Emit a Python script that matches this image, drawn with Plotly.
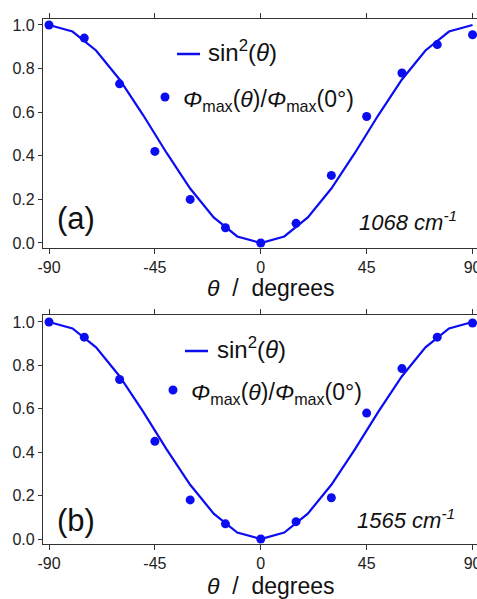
import plotly.graph_objects as go

W, H = 477, 599

# ---- data ----
theta_pts = [-90, -75, -60, -45, -30, -15, 0, 15, 30, 45, 60, 75, 90]
phi_a = [1.00, 0.94, 0.73, 0.42, 0.20, 0.07, 0.00, 0.09, 0.31, 0.58, 0.78, 0.91, 0.955]
phi_b = [1.00, 0.93, 0.735, 0.45, 0.18, 0.07, 0.00, 0.08, 0.19, 0.58, 0.785, 0.93, 0.995]

theta_line = [-90, -80, -70, -60, -50, -40, -30, -20, -10, 0, 10, 20, 30, 40, 50, 60, 70, 80, 90]
sin2_line = [1.0, 0.970, 0.883, 0.75, 0.587, 0.413, 0.25, 0.117, 0.030, 0.0,
             0.030, 0.117, 0.25, 0.413, 0.587, 0.75, 0.883, 0.970, 1.0]

x_ticks = [-90, -45, 0, 45, 90]
x_ticklabels = ["-90", "-45", "0", "45", "90"]
y_ticks = [0.0, 0.2, 0.4, 0.6, 0.8, 1.0]
y_ticklabels = ["0.0", "0.2", "0.4", "0.6", "0.8", "1.0"]
panel_labels = ["(a)", "(b)"]
wavenumbers = ["1068 cm<sup>-1</sup>", "1565 cm<sup>-1</sup>"]
legend_line = "sin<sup>2</sup>(<i>θ</i>)"
legend_pts = "<i>Φ</i><sub>max</sub>(<i>θ</i>)/<i>Φ</i><sub>max</sub>(0°)"
x_title = "<i>θ</i>  /  degrees"

BLUE = "rgb(12,12,240)"
AX = "#333333"
FONT = "Liberation Sans, Arial, sans-serif"

fig = go.Figure()
for i, phi in enumerate([phi_a, phi_b]):
    xa = "x" if i == 0 else "x2"
    ya = "y" if i == 0 else "y2"
    fig.add_trace(go.Scatter(x=theta_line, y=sin2_line, mode="lines",
                             line=dict(color=BLUE, width=2.2), xaxis=xa, yaxis=ya,
                             showlegend=False))
    fig.add_trace(go.Scatter(x=theta_pts, y=phi, mode="markers",
                             marker=dict(color=BLUE, size=9), xaxis=xa, yaxis=ya,
                             cliponaxis=False, showlegend=False))

def px(x):
    return x / W

def py(y):
    return 1 - y / H

xdom = [px(43), 1.0]
xcommon = dict(range=[-92.55, 91.9], tickvals=x_ticks, ticktext=x_ticklabels,
               showgrid=False, zeroline=False, showline=True, linecolor=AX, linewidth=1.3,
               mirror="ticks", ticks="outside", ticklen=5, tickwidth=1.3, tickcolor=AX,
               tickfont=dict(size=16, color="#222222", family=FONT), domain=xdom,
               automargin=False, ticklabeloverflow="allow")
ycommon = dict(tickvals=y_ticks, ticktext=y_ticklabels, showgrid=False, zeroline=False,
               showline=True, linecolor=AX, linewidth=1.3, mirror=False,
               ticks="outside", ticklen=4, tickwidth=1.3, tickcolor=AX,
               tickfont=dict(size=16, color="#222222", family=FONT), automargin=False)

fig.update_layout(
    template="none",
    width=W, height=H, margin=dict(l=0, r=0, t=0, b=0, pad=0, autoexpand=False),
    paper_bgcolor="white", plot_bgcolor="white",
    font=dict(family=FONT, color="#111111"),
    xaxis=dict(**xcommon, anchor="y"),
    yaxis=dict(**ycommon, range=[-0.023, 1.0275], domain=[py(248), py(19)], anchor="x"),
    xaxis2=dict(**xcommon, anchor="y2"),
    yaxis2=dict(**ycommon, range=[-0.023, 1.032], domain=[py(544), py(315)], anchor="x2"),
)

# legends, labels, titles (per panel pixel positions)
panels = [
    dict(line_x=(177, 200), line_y=54, mk=(165, 97), t1x=206, t2x=181,
         lab=(76, 218), wn=(408, 223), title_y=288),
    dict(line_x=(185, 208), line_y=351, mk=(173, 390), t1x=215, t2x=189,
         lab=(76, 520), wn=(406, 521), title_y=586),
]
shapes = []
annots = []
for i, p in enumerate(panels):
    shapes.append(dict(type="line", xref="paper", yref="paper",
                       x0=px(p["line_x"][0]), x1=px(p["line_x"][1]),
                       y0=py(p["line_y"]), y1=py(p["line_y"]),
                       line=dict(color=BLUE, width=2.5)))
    mx, my = p["mk"]
    shapes.append(dict(type="circle", xref="paper", yref="paper",
                       x0=px(mx - 4.5), x1=px(mx + 4.5), y0=py(my + 4.5), y1=py(my - 4.5),
                       fillcolor=BLUE, line=dict(width=0)))
    annots.append(dict(text=legend_line, x=px(p["t1x"]), y=py(p["line_y"] - 3), xref="paper",
                       yref="paper", xanchor="left", yanchor="middle", showarrow=False,
                       font=dict(size=24, family=FONT, color="#111111")))
    annots.append(dict(text=legend_pts, x=px(p["t2x"]), y=py(my + 3), xref="paper",
                       yref="paper", xanchor="left", yanchor="middle", showarrow=False,
                       font=dict(size=23, family=FONT, color="#111111")))
    annots.append(dict(text=panel_labels[i], x=px(p["lab"][0]), y=py(p["lab"][1]), xref="paper",
                       yref="paper", xanchor="center", yanchor="middle", showarrow=False,
                       font=dict(size=31, family=FONT, color="#111111")))
    annots.append(dict(text="<i>" + wavenumbers[i] + "</i>", x=px(p["wn"][0]), y=py(p["wn"][1] - 2),
                       xref="paper", yref="paper", xanchor="center", yanchor="middle",
                       showarrow=False, font=dict(size=22, family=FONT, color="#111111")))
    annots.append(dict(text=x_title, x=px(271), y=py(p["title_y"]), xref="paper", yref="paper",
                       xanchor="center", yanchor="middle", showarrow=False,
                       font=dict(size=23, family=FONT, color="#111111")))

fig.update_layout(shapes=shapes, annotations=annots)
fig.write_html("out.html", config={"displayModeBar": False},
               post_script="document.body.style.margin='0';document.body.style.overflow='hidden';")
